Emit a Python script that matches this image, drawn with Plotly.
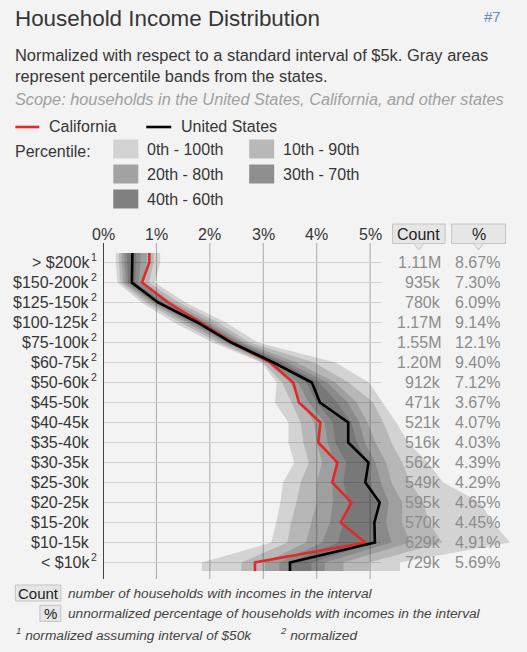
import plotly.graph_objects as go

# ---------------- data ----------------
labels = ["> $200k", "$150-200k", "$125-150k", "$100-125k", "$75-100k", "$60-75k",
          "$50-60k", "$45-50k", "$40-45k", "$35-40k", "$30-35k", "$25-30k",
          "$20-25k", "$15-20k", "$10-15k", "< $10k"]
notes = ["1", "2", "2", "2", "2", "2", "2", "", "", "", "", "", "", "", "", "2"]
counts = ["1.11M", "935k", "780k", "1.17M", "1.55M", "1.20M", "912k", "471k",
          "521k", "516k", "562k", "549k", "595k", "570k", "629k", "729k"]
pcts = ["8.67%", "7.30%", "6.09%", "9.14%", "12.1%", "9.40%", "7.12%", "3.67%",
        "4.07%", "4.03%", "4.39%", "4.29%", "4.65%", "4.45%", "4.91%", "5.69%"]

california = [0.867, 0.730, 1.218, 1.828, 2.42, 3.133, 3.56, 3.67,
              4.07, 4.03, 4.39, 4.29, 4.65, 4.45, 4.91, 2.845]
united_states = [0.55, 0.54, 1.03, 1.77, 2.40, 3.19, 3.91, 4.06,
                 4.59, 4.59, 4.97, 4.91, 5.18, 5.08, 5.09, 3.50]

p0_100_lo = [0.24, 0.27, 0.72, 1.33, 2.05, 2.97, 3.25, 3.22, 3.47, 3.47, 3.58, 3.37, 3.32, 3.24, 3.15, 1.85]
p0_100_hi = [1.07, 0.97, 1.55, 2.30, 2.90, 4.35, 4.98, 5.24, 5.49, 5.71, 6.08, 6.37, 7.06, 7.30, 7.62, 5.56]
p10_90_lo = [0.30, 0.33, 0.80, 1.45, 2.15, 3.00, 3.35, 3.53, 3.70, 3.75, 3.85, 3.70, 3.62, 3.52, 3.45, 2.59]
p10_90_hi = [0.95, 0.86, 1.42, 2.15, 2.75, 3.95, 4.60, 5.06, 5.25, 5.40, 5.60, 5.75, 6.00, 6.10, 6.35, 4.98]
p20_80_lo = [0.35, 0.38, 0.88, 1.55, 2.25, 3.07, 3.50, 3.72, 3.95, 4.00, 4.10, 4.00, 4.00, 3.90, 3.80, 3.03]
p20_80_hi = [0.82, 0.76, 1.30, 2.02, 2.65, 3.62, 4.35, 4.75, 4.95, 5.10, 5.30, 5.40, 5.60, 5.60, 5.75, 4.50]
p30_70_lo = [0.40, 0.43, 0.94, 1.63, 2.32, 3.12, 3.65, 3.85, 4.15, 4.20, 4.35, 4.30, 4.30, 4.25, 4.10, 3.30]
p30_70_hi = [0.70, 0.67, 1.20, 1.93, 2.58, 3.45, 4.20, 4.58, 4.80, 4.90, 5.10, 5.20, 5.35, 5.30, 5.40, 4.15]
p40_60_lo = [0.45, 0.47, 0.98, 1.70, 2.38, 3.17, 3.80, 4.00, 4.30, 4.35, 4.55, 4.50, 4.60, 4.50, 4.40, 3.50]
p40_60_hi = [0.62, 0.60, 1.12, 1.85, 2.52, 3.35, 4.05, 4.38, 4.65, 4.75, 4.95, 5.00, 5.15, 5.05, 5.10, 3.90]

band_names = ["0th - 100th", "10th - 90th", "20th - 80th", "30th - 70th", "40th - 60th"]
bands = [(p0_100_lo, p0_100_hi), (p10_90_lo, p10_90_hi), (p20_80_lo, p20_80_hi),
         (p30_70_lo, p30_70_hi), (p40_60_lo, p40_60_hi)]
swatch_colors = ["#d2d2d2", "#b8b8b8", "#a3a3a3", "#8f8f8f", "#808080"]
x_ticks = [0, 1, 2, 3, 4, 5]

# ---------------- geometry ----------------
W, H = 527, 652
L, T, PB = 102.7, 243.0, 579.0
PW, PH = W - L, PB - T
PX_PER_PCT = 53.46
XMAX = PW / PX_PER_PCT
ROW0_PX, ROW_PX = 262.5, 20.0
Y_TOP = (T - ROW0_PX) / ROW_PX
Y_BOT = (PB - ROW0_PX) / ROW_PX
EXT_TOP, EXT_BOT = 0.48, 0.42

FONT = "Liberation Sans, Arial, sans-serif"
BG = "#f3f3f3"
RED = "#e02a2a"
TXT = "#363636"


def px(x):
    return (x - L) / PW


def py(y):
    return (PB - y) / PH


rows = list(range(len(labels)))
y_ext = [rows[0] - EXT_TOP] + rows + [rows[-1] + EXT_BOT]


def ext(v):
    return [v[0]] + list(v) + [v[-1]]


fig = go.Figure()

for (lo, hi), name in zip(bands, band_names):
    xs = ext(lo) + ext(hi)[::-1]
    ys = y_ext + y_ext[::-1]
    fig.add_trace(go.Scatter(x=xs, y=ys, fill="toself", mode="lines",
                             line=dict(width=0), fillcolor="rgba(0,0,0,0.13)",
                             hoverinfo="skip", name=name, showlegend=False))

fig.add_trace(go.Scatter(x=ext(california), y=y_ext, mode="lines",
                         line=dict(color=RED, width=2.6), name="California",
                         showlegend=False))
fig.add_trace(go.Scatter(x=ext(united_states), y=y_ext, mode="lines",
                         line=dict(color="#000000", width=2.6), name="United States",
                         showlegend=False))

shapes = []
for r in rows:
    shapes.append(dict(type="line", xref="x", yref="y", x0=0, x1=5.2, y0=r, y1=r,
                       line=dict(color="#d2d2d2", width=1), layer="below"))
for t in x_ticks[1:]:
    shapes.append(dict(type="line", xref="x", yref="paper", x0=t, x1=t, y0=0, y1=1,
                       line=dict(color="#aaaaaa", width=1), layer="below"))
shapes.append(dict(type="line", xref="x", yref="paper", x0=0, x1=0, y0=0, y1=1,
                   line=dict(color="#444444", width=2), layer="above"))

annotations = []


def ann(text, x, y, size=16, color=TXT, anchor="left", italic=False,
        xref="paper", yref="paper", yshift=0):
    annotations.append(dict(
        text=f"<i>{text}</i>" if italic else text, x=x, y=y, xref=xref, yref=yref,
        xanchor=anchor, yanchor="middle", showarrow=False, yshift=yshift,
        font=dict(family=FONT, size=size, color=color)))


# header
ann("Household Income Distribution", px(13), py(18.5), size=22.4)
ann("#7", px(503), py(17), size=15, color="#6a8cb5", anchor="right")
ann("Normalized with respect to a standard interval of $5k. Gray areas", px(13), py(55), size=16.45)
ann("represent percentile bands from the states.", px(13), py(76), size=16.45)
ann("Scope: households in the United States, California, and other states",
    px(13), py(98.5), size=16.3, color="#a0a0a0", italic=True)

# legend
shapes.append(dict(type="line", xref="paper", yref="paper", x0=px(15), x1=px(39),
                   y0=py(127), y1=py(127), line=dict(color=RED, width=2.6)))
ann("California", px(46.5), py(127), size=16)
shapes.append(dict(type="line", xref="paper", yref="paper", x0=px(146), x1=px(171),
                   y0=py(127), y1=py(127), line=dict(color="#000000", width=2.6)))
ann("United States", px(179), py(127), size=16)
ann("Percentile:", px(13), py(151), size=16)

sw_pos = [(113, 139.5), (249, 139.5), (113, 164.5), (249, 164.5), (113, 189.5)]
for (sx, sy), col, name in zip(sw_pos, swatch_colors, band_names):
    shapes.append(dict(type="rect", xref="paper", yref="paper", x0=px(sx), x1=px(sx + 25),
                       y0=py(sy), y1=py(sy + 19), fillcolor=col, line=dict(width=0)))
    ann(name, px(sx + 31.5), py(sy + 9.5), size=16)

# x tick labels
for t in x_ticks:
    ann(f"{t}%", t, py(234.5), size=16, anchor="center", xref="x")

# column headers
for (bx0, bx1, txt) in [(392.5, 445, "Count"), (451.5, 505.5, "%")]:
    cx = (bx0 + bx1) / 2
    shapes.append(dict(type="rect", xref="paper", yref="paper", x0=px(bx0), x1=px(bx1),
                       y0=py(224), y1=py(243.5), fillcolor="#e6e6e6",
                       line=dict(color="#c4c4c4", width=1)))
    shapes.append(dict(type="path", xref="paper", yref="paper",
                       path=f"M {px(cx-5)},{py(243.5)} L {px(cx)},{py(250)} L {px(cx+5)},{py(243.5)}",
                       fillcolor="#e6e6e6", line=dict(color="#c4c4c4", width=1)))
    ann(txt, px(cx), py(234), size=16, anchor="center", color="#222222")

# category labels, footnote marks, count / % columns
for r, lab, note, c, p in zip(rows, labels, notes, counts, pcts):
    ann(lab, px(91.5), r, size=16, anchor="right", yref="y")
    if note:
        ann(note, px(88.8), r, size=10.5, anchor="left", yref="y", yshift=5.5)
    ann(c, px(443), r, size=16, anchor="right", yref="y", color="#8c8c8c")
    ann(p, px(502), r, size=16, anchor="right", yref="y", color="#8c8c8c")

# footer
shapes.append(dict(type="rect", xref="paper", yref="paper", x0=px(15), x1=px(60.5),
                   y0=py(585), y1=py(601), fillcolor="#e6e6e6", line=dict(color="#c4c4c4", width=1)))
ann("Count", px(37.7), py(593), size=15, anchor="center", color="#222222")
ann("number of households with incomes in the interval", px(65.5), py(593), size=13.7,
    color="#444444", italic=True)
shapes.append(dict(type="rect", xref="paper", yref="paper", x0=px(39.6), x1=px(60.5),
                   y0=py(605.2), y1=py(621.4), fillcolor="#e6e6e6", line=dict(color="#c4c4c4", width=1)))
ann("%", px(50), py(613.3), size=15, anchor="center", color="#222222")
ann("unnormalized percentage of households with incomes in the interval", px(65.5), py(613.5),
    size=13.7, color="#444444", italic=True)
ann("<sup>1</sup> normalized assuming interval of $50k", px(14), py(634), size=13.7,
    color="#444444", italic=True)
ann("<sup>2</sup> normalized", px(278), py(634), size=13.7, color="#444444", italic=True)

fig.update_layout(
    width=W, height=H,
    margin=dict(l=L, r=0, t=T, b=H - PB, pad=0),
    paper_bgcolor=BG, plot_bgcolor=BG,
    showlegend=False,
    xaxis=dict(range=[0, XMAX], showgrid=False, zeroline=False, showticklabels=False,
               showline=False, fixedrange=True),
    yaxis=dict(range=[Y_BOT, Y_TOP], showgrid=False, zeroline=False, showticklabels=False,
               showline=False, fixedrange=True),
    shapes=shapes,
    annotations=annotations,
)

fig.write_html("out.html")
